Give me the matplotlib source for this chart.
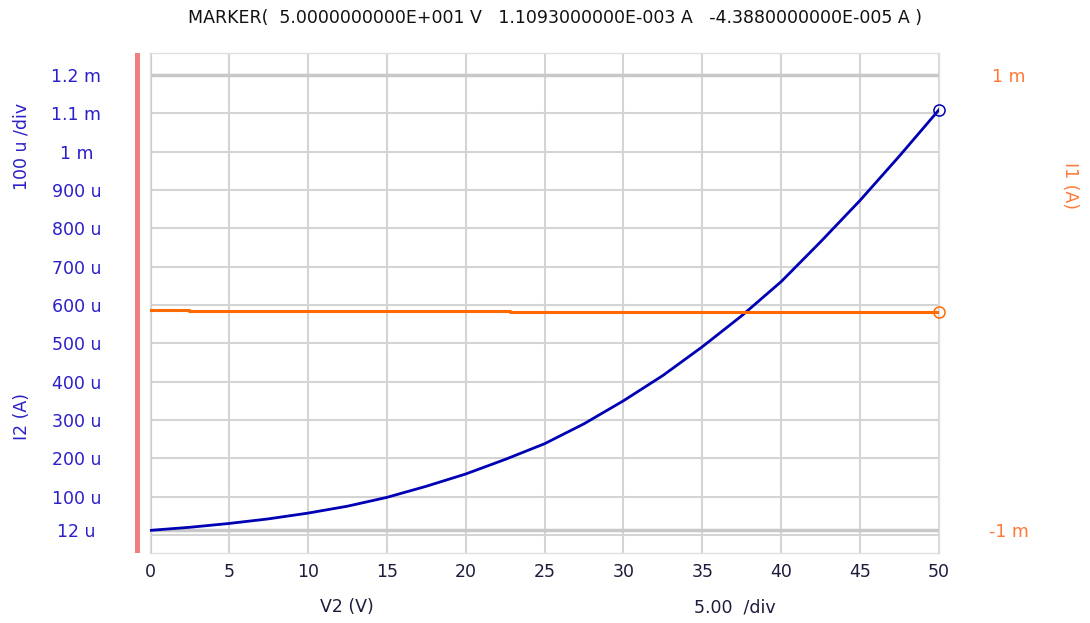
import matplotlib
matplotlib.use("Agg")
import matplotlib.pyplot as plt
from matplotlib.patches import Rectangle
import numpy as np

plt.rcParams['font.family'] = ['DejaVu Sans']

# ---- data ----
v2 = [0, 2.5, 5, 7.5, 10, 12.5, 15, 17.5, 20, 22.5, 25, 27.5, 30, 32.5,
      35, 37.5, 40, 42.5, 45, 47.5, 50]
i2_u = [12, 20, 30, 42, 57, 75, 98, 127, 159, 197, 238, 290, 350, 416,
        491, 572, 661, 765, 873, 989, 1109.3]
i1_v = [0, 2.5, 22.8, 50]
i1_u = [-32.0, -38.5, -43.88, -43.88]

left_ticks = [12e-6] + [k * 100e-6 for k in range(1, 13)]
left_labels = ['12 u', '100 u', '200 u', '300 u', '400 u', '500 u', '600 u',
               '700 u', '800 u', '900 u', '1 m', '1.1 m', '1.2 m']
right_ticks = [-1e-3, 1e-3]
right_labels = ['-1 m', '1 m']
x_ticks = list(range(0, 51, 5))

title = "MARKER(  5.0000000000E+001 V   1.1093000000E-003 A   -4.3880000000E-005 A )"

# ---- figure ----
W, H = 1090, 623
fig = plt.figure(figsize=(W / 100, H / 100), dpi=100)
L, R, T, B = 150, 939, 53, 553
ax = fig.add_axes([L / W, 1 - B / H, (R - L) / W, (B - T) / H])

grid_c = '#d4d4d4'
blue = '#0000b4'
blue_txt = '#2b1fc8'
orange = '#ff6a00'
orange_txt = '#ff7a3a'

i2 = np.array(i2_u) * 1e-6
i1 = np.array(i1_u) * 1e-6

ax.set_xlim(0, 50)
ax.set_ylim(-47e-6, 1.2574e-3)
ax.set_xticks(x_ticks)
ax.set_xticklabels([str(x) for x in x_ticks], color='#1c1c3c', fontsize=12.5)
ax.set_yticks(left_ticks)
ax.set_yticklabels(left_labels, color=blue_txt, fontsize=12.5)
ax.tick_params(axis='y', length=0, pad=53)
ax.tick_params(axis='x', length=0, pad=7)
for lab in ax.get_yticklabels():
    lab.set_horizontalalignment('center')

for x in x_ticks:
    ax.axvline(x, color=grid_c, lw=1.5, zorder=0)
for y in left_ticks + [0.0]:
    ax.axhline(y, color=grid_c, lw=1.5, zorder=0)
ax.axhline(1.2e-3, color='#c8c8c8', lw=2.5, zorder=0)
ax.axhline(12e-6, color='#c8c8c8', lw=2.5, zorder=0)
ax.axvline(0, color='#c8c8c8', lw=3, zorder=0)

for s in ax.spines.values():
    s.set_color('#e0e0e0')
    s.set_linewidth(1)

ax.plot(v2, i2, color=blue, lw=2, zorder=3, solid_joinstyle='round')
ax.plot([v2[-1]], [i2[-1]], marker='o', ms=8, mfc='none', mec=blue, mew=1.1,
        zorder=4, clip_on=False)

ax2 = ax.twinx()
ax2.set_ylim(-1.101e-3, 1.0967e-3)
ax2.set_yticks(right_ticks)
ax2.set_yticklabels(right_labels, color=orange_txt, fontsize=12.5)
ax2.tick_params(axis='y', length=0, pad=50)
for lab in ax2.get_yticklabels():
    lab.set_horizontalalignment('center')
for s in ax2.spines.values():
    s.set_visible(False)
ax2.plot(i1_v, i1, color=orange, lw=2.2, drawstyle='steps-post', zorder=3)
ax2.plot([i1_v[-1]], [i1[-1]], marker='o', ms=8, mfc='none', mec=orange,
         mew=1.1, zorder=4, clip_on=False)

# pink bar left of plot
fig.patches.append(Rectangle((135 / W, 1 - B / H), 5 / W, (B - T) / H,
                             transform=fig.transFigure, color='#f08080',
                             lw=0))

fig.text(555 / W, 1 - 18 / H, title, ha='center', va='center',
         fontsize=12.5, color='#111111')
fig.text(22 / W, 1 - 146 / H, '100 u /div', rotation=90, ha='center',
         va='center', fontsize=12.5, color=blue_txt)
fig.text(22 / W, 1 - 417 / H, 'I2 (A)', rotation=90, ha='center',
         va='center', fontsize=12.5, color=blue_txt)
fig.text(1070 / W, 1 - 185 / H, 'I1 (A)', rotation=270, ha='center',
         va='center', fontsize=12.5, color=orange_txt)
fig.text(347 / W, 1 - 607 / H, 'V2 (V)', ha='center', va='center',
         fontsize=12.5, color='#1c1c3c')
fig.text(735 / W, 1 - 607 / H, '5.00  /div', ha='center', va='center',
         fontsize=12.5, color='#1c1c3c')

fig.savefig('out.png', dpi=100, facecolor='white')
